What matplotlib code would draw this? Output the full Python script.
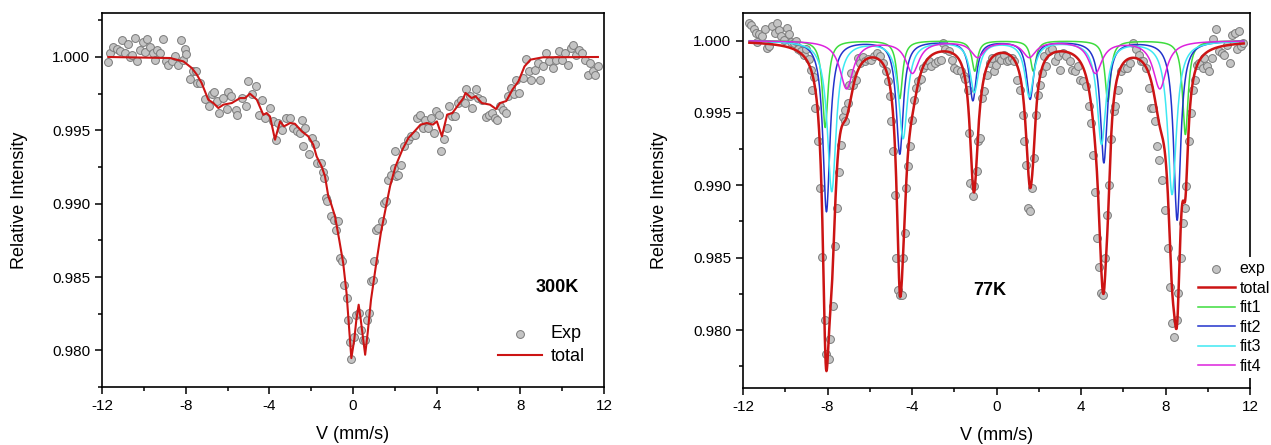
import numpy as np
import matplotlib
matplotlib.use("Agg")
import matplotlib.pyplot as plt
from matplotlib.ticker import MultipleLocator, FormatStrFormatter

plt.rcParams['font.family'] = ['Liberation Sans', 'DejaVu Sans']
plt.rcParams['axes.unicode_minus'] = False

# ---- 300K spectrum (left) ----
exp300_v = [-11.70, -11.62, -11.49, -11.30, -11.14, -11.06, -10.90, -10.77, -10.66, -10.58,
            -10.42, -10.31, -10.18, -10.05, -9.94, -9.83, -9.71, -9.58, -9.47, -9.36,
            -9.23, -9.07, -8.94, -8.83, -8.67, -8.52, -8.35, -8.24, -8.15, -8.03,
            -7.99, -7.80, -7.67, -7.51, -7.48, -7.32, -7.08, -6.87, -6.76, -6.66,
            -6.52, -6.39, -6.23, -6.04, -5.96, -5.85, -5.60, -5.53, -5.33, -5.12,
            -5.01, -4.85, -4.66, -4.48, -4.33, -4.21, -3.97, -3.81, -3.68, -3.57,
            -3.41, -3.20, -3.01, -2.85, -2.66, -2.53, -2.45, -2.29, -2.37, -2.09,
            -1.98, -1.82, -1.74, -1.55, -1.45, -1.39, -1.31, -1.25, -1.05, -0.90,
            -0.82, -0.74, -0.62, -0.51, -0.41, -0.31, -0.23, -0.15, -0.08, 0.04,
            0.16, 0.27, 0.39, 0.47, 0.57, 0.66, 0.76, 0.86, 0.94, 1.01,
            1.09, 1.21, 1.38, 1.48, 1.58, 1.68, 1.83, 1.97, 2.07, 2.03,
            2.16, 2.30, 2.46, 2.61, 2.75, 2.94, 3.04, 3.20, 3.33, 3.43,
            3.59, 3.72, 3.86, 3.98, 4.11, 4.21, 4.35, 4.50, 4.60, 4.75,
            4.89, 5.03, 5.18, 5.34, 5.42, 5.57, 5.71, 5.86, 6.00, 6.16,
            6.35, 6.51, 6.64, 6.78, 6.90, 7.03, 7.17, 7.33, 7.42, 7.56,
            7.68, 7.81, 7.95, 8.11, 8.26, 8.40, 8.53, 8.69, 8.85, 8.92,
            9.08, 9.24, 9.37, 9.57, 9.70, 9.86, 10.01, 10.15, 10.29, 10.44,
            10.54, 10.68, 10.79, 10.93, 11.07, 11.22, 11.34, 11.46, 11.57, 11.71]
exp300_i = [0.99963, 1.00027, 1.00068, 1.00055, 1.00038, 1.00113, 1.00027, 1.00091, 1.00000, 1.00016,
            1.00130, 0.99970, 1.00050, 1.00100, 1.00031, 1.00123, 1.00068, 1.00027, 0.99977, 1.00050,
            1.00027, 1.00123, 0.99970, 0.99947, 0.99970, 1.00004, 0.99947, 1.00118, 0.99982, 1.00055,
            1.00023, 0.99850, 0.99902, 0.99902, 0.99823, 0.99823, 0.99714, 0.99663, 0.99750, 0.99759,
            0.99697, 0.99618, 0.99720, 0.99645, 0.99759, 0.99731, 0.99640, 0.99606, 0.99720, 0.99663,
            0.99838, 0.99750, 0.99800, 0.99606, 0.99709, 0.99584, 0.99652, 0.99561, 0.99436, 0.99550,
            0.99504, 0.99584, 0.99584, 0.99516, 0.99493, 0.99482, 0.99568, 0.99516, 0.99390, 0.99340,
            0.99448, 0.99409, 0.99277, 0.99277, 0.99219, 0.99175, 0.99038, 0.99016, 0.98913, 0.98891,
            0.98823, 0.98879, 0.98629, 0.98607, 0.98448, 0.98357, 0.98209, 0.98054, 0.97941, 0.98091,
            0.98243, 0.98254, 0.98141, 0.98073, 0.98073, 0.98209, 0.98254, 0.98470, 0.98482, 0.98607,
            0.98823, 0.98834, 0.98879, 0.99004, 0.99016, 0.99164, 0.99198, 0.99243, 0.99186, 0.99357,
            0.99198, 0.99266, 0.99391, 0.99436, 0.99459, 0.99470, 0.99584, 0.99607, 0.99516, 0.99573,
            0.99516, 0.99584, 0.99482, 0.99630, 0.99607, 0.99357, 0.99441, 0.99516, 0.99664, 0.99595,
            0.99595, 0.99686, 0.99709, 0.99686, 0.99782, 0.99732, 0.99652, 0.99782, 0.99720, 0.99709,
            0.99591, 0.99607, 0.99618, 0.99584, 0.99568, 0.99668, 0.99641, 0.99618, 0.99732, 0.99789,
            0.99750, 0.99845, 0.99755, 0.99857, 0.99986, 0.99902, 0.99845, 0.99914, 0.99959, 0.99845,
            0.99936, 1.00027, 0.99970, 0.99925, 0.99982, 1.00039, 0.99982, 1.00027, 0.99948, 1.00061,
            1.00084, 1.00016, 1.00050, 1.00027, 0.99982, 0.99880, 0.99959, 0.99902, 0.99880, 0.99936]

total300_v = [-11.70, -8.75, -8.11, -7.71, -7.47, -7.24, -6.92, -6.68, -6.44, -6.20,
              -5.80, -5.40, -5.16, -4.93, -4.60, -4.29, -4.13, -3.97, -3.73, -3.49,
              -3.30, -3.01, -2.78, -2.45, -2.14, -1.90, -1.74, -1.50, -1.34, -1.18,
              -1.05, -0.86, -0.66, -0.47, -0.31, -0.17, -0.08, 0.06, 0.16, 0.27,
              0.37, 0.51, 0.58, 0.70, 0.86, 1.09, 1.33, 1.58, 1.77, 2.03,
              2.36, 2.65, 2.94, 3.23, 3.53, 3.82, 4.01, 4.25, 4.50, 4.75,
              4.99, 5.28, 5.38, 5.67, 5.86, 6.16, 6.55, 6.84, 7.03, 7.33,
              7.62, 7.91, 8.20, 8.49, 9.08, 11.71]
total300_i = [1.00000, 0.99993, 0.99970, 0.99925, 0.99880, 0.99823, 0.99709, 0.99686, 0.99652, 0.99675,
              0.99686, 0.99720, 0.99720, 0.99750, 0.99709, 0.99606, 0.99618, 0.99595, 0.99436, 0.99561,
              0.99527, 0.99550, 0.99545, 0.99493, 0.99459, 0.99402, 0.99322, 0.99254, 0.99186, 0.99049,
              0.99000, 0.98913, 0.98754, 0.98595, 0.98391, 0.98118, 0.97947, 0.98073, 0.98209, 0.98311,
              0.98209, 0.98050, 0.97970, 0.98118, 0.98345, 0.98573, 0.98800, 0.98982, 0.99118, 0.99254,
              0.99368, 0.99448, 0.99493, 0.99539, 0.99550, 0.99539, 0.99561, 0.99459, 0.99607, 0.99618,
              0.99664, 0.99720, 0.99755, 0.99720, 0.99732, 0.99686, 0.99675, 0.99645, 0.99686, 0.99700,
              0.99777, 0.99834, 0.99936, 0.99982, 0.99998, 1.00000]

# ---- 77K spectrum (right) ----
exp77_v = [-11.73, -11.62, -11.48, -11.39, -11.24, -11.35, -11.10, -10.97, -10.85, -10.78,
           -10.63, -10.47, -10.40, -10.28, -10.21, -10.05, -9.90, -9.82, -9.71, -9.58,
           -9.48, -9.39, -9.25, -9.10, -9.00, -8.87, -8.76, -8.62, -8.72, -8.58,
           -8.43, -8.34, -8.24, -8.14, -8.05, -7.95, -7.86, -7.76, -7.63, -7.57,
           -7.48, -7.38, -7.29, -7.19, -7.15, -7.04, -7.00, -6.90, -6.81, -6.66,
           -6.58, -6.47, -6.33, -6.24, -6.08, -5.95, -5.82, -5.66, -5.51, -5.38,
           -5.24, -5.13, -5.05, -4.99, -4.90, -4.81, -4.75, -4.65, -4.56, -4.48,
           -4.42, -4.33, -4.27, -4.18, -4.10, -3.98, -3.91, -3.79, -3.72, -3.56,
           -3.47, -3.34, -3.22, -3.09, -2.90, -2.76, -2.61, -2.52, -2.42, -2.27,
           -2.13, -2.00, -1.85, -1.69, -1.56, -1.47, -1.37, -1.31, -1.24, -1.12,
           -1.05, -0.93, -0.86, -0.80, -0.70, -0.61, -0.47, -0.32, -0.23, -0.13,
           -0.02, 0.10, 0.21, 0.35, 0.48, 0.60, 0.73, 0.82, 0.98, 1.11,
           1.24, 1.30, 1.40, 1.49, 1.59, 1.68, 1.78, 1.87, 1.97, 2.06,
           2.16, 2.26, 2.35, 2.50, 2.64, 2.77, 2.92, 3.02, 3.15, 3.31,
           3.46, 3.59, 3.73, 3.84, 3.97, 4.07, 4.22, 4.36, 4.45, 4.55,
           4.64, 4.74, 4.83, 4.93, 5.02, 5.12, 5.21, 5.31, 5.40, 5.56,
           5.63, 5.75, 5.88, 6.02, 6.17, 6.32, 6.45, 6.59, 6.74, 6.84,
           6.93, 7.08, 7.22, 7.31, 7.41, 7.50, 7.60, 7.70, 7.85, 7.98,
           8.11, 8.23, 8.31, 8.42, 8.55, 8.61, 8.74, 8.84, 8.94, 8.99,
           9.13, 9.22, 9.32, 9.41, 9.51, 9.60, 9.76, 9.83, 9.98, 10.08,
           10.18, 10.27, 10.40, 10.52, 10.65, 10.79, 10.90, 11.03, 11.13, 11.28,
           11.36, 11.47, 11.59, 11.66]
exp77_i = [1.00122, 1.00104, 1.00081, 1.00053, 1.00046, 0.99988, 1.00030, 1.00076, 0.99949, 0.99961,
           1.00099, 1.00053, 1.00122, 1.00072, 1.00030, 1.00002, 1.00088, 1.00046, 0.99988, 0.99984,
           0.99995, 0.99942, 0.99926, 0.99903, 0.99942, 0.99873, 0.99799, 0.99749, 0.99661, 0.99534,
           0.99303, 0.98980, 0.98507, 0.98069, 0.97838, 0.97797, 0.97935, 0.98166, 0.98581, 0.98842,
           0.99089, 0.99280, 0.99472, 0.99442, 0.99522, 0.99569, 0.99695, 0.99776, 0.99695, 0.99730,
           0.99880, 0.99845, 0.99887, 0.99857, 0.99873, 0.99868, 0.99892, 0.99915, 0.99896, 0.99845,
           0.99788, 0.99719, 0.99615, 0.99442, 0.99234, 0.98934, 0.98496, 0.98277, 0.98242, 0.98242,
           0.98496, 0.98669, 0.98980, 0.99130, 0.99269, 0.99453, 0.99592, 0.99672, 0.99719, 0.99735,
           0.99811, 0.99834, 0.99857, 0.99822, 0.99845, 0.99857, 0.99868, 0.99984, 0.99942, 0.99926,
           0.99868, 0.99811, 0.99799, 0.99788, 0.99753, 0.99735, 0.99661, 0.99361, 0.99015, 0.98923,
           0.98992, 0.99096, 0.99303, 0.99326, 0.99603, 0.99649, 0.99765, 0.99845, 0.99880, 0.99788,
           0.99834, 0.99880, 0.99868, 0.99903, 0.99857, 0.99868, 0.99880, 0.99857, 0.99730, 0.99661,
           0.99488, 0.99303, 0.99142, 0.98842, 0.98819, 0.98980, 0.99188, 0.99488, 0.99626, 0.99695,
           0.99776, 0.99892, 0.99822, 0.99926, 0.99938, 0.99857, 0.99892, 0.99799, 0.99915, 0.99892,
           0.99857, 0.99799, 0.99788, 0.99822, 0.99730, 0.99719, 0.99684, 0.99546, 0.99430, 0.99211,
           0.98957, 0.98634, 0.98438, 0.98254, 0.98242, 0.98496, 0.98796, 0.99003, 0.99319, 0.99511,
           0.99546, 0.99661, 0.99788, 0.99811, 0.99811, 0.99845, 0.99984, 0.99938, 0.99903, 0.99857,
           0.99857, 0.99811, 0.99672, 0.99534, 0.99534, 0.99442, 0.99269, 0.99176, 0.99038, 0.98830,
           0.98565, 0.98300, 0.98046, 0.97949, 0.98069, 0.98254, 0.98500, 0.98738, 0.98842, 0.98992,
           0.99303, 0.99499, 0.99661, 0.99730, 0.99834, 0.99845, 0.99811, 0.99880, 0.99822, 0.99788,
           0.99880, 1.00012, 1.00081, 0.99926, 0.99915, 0.99903, 0.99972, 0.99845, 1.00035, 1.00053,
           0.99938, 1.00065, 0.99961, 0.99984]

# fitted sextets: line positions (mm/s), line depths, half width (mm/s)
fit_names = ['fit1', 'fit2', 'fit3', 'fit4']
fit_colors = ['#3ddc3d', '#2233cc', '#3ee8f2', '#dd22dd']
fit_pos = [[-8.11, -4.58, -1.03, 1.74, 5.27, 8.94],
           [-8.05, -4.58, -1.12, 1.59, 5.08, 8.55],
           [-7.80, -4.42, -1.05, 1.55, 4.97, 8.31],
           [-7.10, -3.98, -0.89, 1.55, 4.68, 7.73]]
fit_depth = [[0.0060, 0.0040, 0.0021, 0.0021, 0.0042, 0.0065],
             [0.0118, 0.0078, 0.0041, 0.0040, 0.0084, 0.0124],
             [0.0104, 0.0067, 0.0035, 0.0038, 0.0071, 0.0106],
             [0.0033, 0.0022, 0.0011, 0.0011, 0.0022, 0.0033]]
fit_hwhm = [0.16, 0.20, 0.25, 0.38]

v_grid = np.linspace(-11.7, 11.7, 1200)


def sextet(pos, depth, hw):
    y = np.ones_like(v_grid)
    for p, d in zip(pos, depth):
        y -= d / (1 + ((v_grid - p) / hw) ** 2)
    return y


fits = [sextet(p, d, w) for p, d, w in zip(fit_pos, fit_depth, fit_hwhm)]
total77 = 1 - sum(1 - f for f in fits)

fig = plt.figure(figsize=(12.71, 4.45), dpi=100)
ax1 = fig.add_axes([0.0803, 0.1303, 0.3949, 0.8405])
ax2 = fig.add_axes([0.5846, 0.1281, 0.3989, 0.8427])

red = '#cc1414'
for ax in (ax1, ax2):
    ax.set_xlim(-12, 12)
    ax.xaxis.set_major_locator(MultipleLocator(4))
    ax.xaxis.set_minor_locator(MultipleLocator(2))
    ax.yaxis.set_major_locator(MultipleLocator(0.005))
    ax.yaxis.set_minor_locator(MultipleLocator(0.0025))
    ax.yaxis.set_major_formatter(FormatStrFormatter('%.3f'))
    ax.tick_params(which='both', direction='out', top=False, right=False, labelsize=11, width=1.1)
    ax.tick_params(which='major', length=5)
    ax.tick_params(which='minor', length=3)
    for s in ax.spines.values():
        s.set_linewidth(1.2)
    ax.set_xlabel('V (mm/s)', fontsize=13)
    ax.set_ylabel('Relative Intensity', fontsize=13)
    ax.xaxis.set_label_coords(0.5, -0.105)
    ax.yaxis.set_label_coords(-0.147, 0.5)

ax1.set_ylim(0.9775, 1.0030)
ax1.scatter(exp300_v, exp300_i, s=32, c='#c4c4c4', edgecolors='#7a7a7a', linewidths=0.7,
            label='Exp', zorder=2)
ax1.plot(total300_v, total300_i, color=red, lw=1.5, label='total', zorder=3)
ax1.text(0.906, 0.265, '300K', transform=ax1.transAxes, fontsize=13, fontweight='bold',
         ha='center', va='center')
ax1.legend(loc='center left', bbox_to_anchor=(0.775, 0.112), frameon=False, fontsize=13,
           handlelength=2.4, handletextpad=0.5, labelspacing=0.3, borderaxespad=0)

ax2.set_ylim(0.9760, 1.0019)
ax2.scatter(exp77_v, exp77_i, s=32, c='#c4c4c4', edgecolors='#7a7a7a', linewidths=0.7,
            label='exp', zorder=2)
ax2.plot(v_grid, total77, color=red, lw=1.8, label='total', zorder=4)
for f, name, col in zip(fits, fit_names, fit_colors):
    ax2.plot(v_grid, f, color=col, lw=1.1, label=name, zorder=3)
ax2.text(0.487, 0.261, '77K', transform=ax2.transAxes, fontsize=13, fontweight='bold',
         ha='center', va='center')
leg = ax2.legend(loc='center left', bbox_to_anchor=(0.888, 0.188), frameon=True, fontsize=11.5,
                 handlelength=2.3, handletextpad=0.3, labelspacing=0.28, borderaxespad=0,
                 borderpad=0.3, fancybox=False)
leg.get_frame().set_edgecolor('none')
leg.get_frame().set_facecolor('white')
leg.get_frame().set_alpha(1)
leg.set_zorder(10)

fig.savefig('out.png', dpi=100)
